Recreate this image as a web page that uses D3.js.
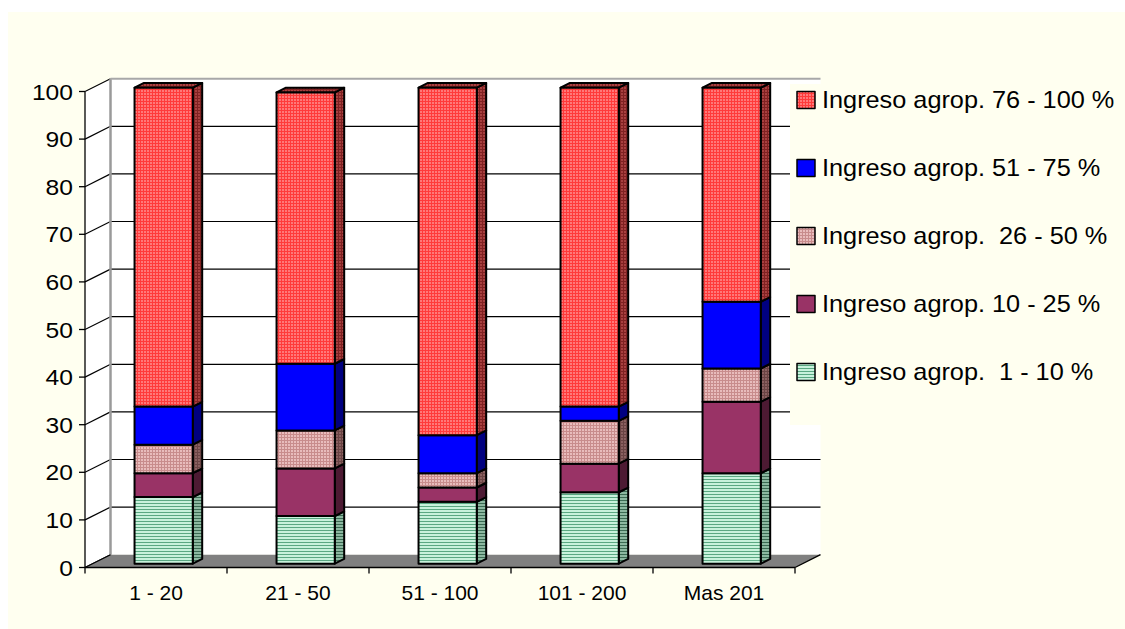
<!DOCTYPE html>
<html>
<head>
<meta charset="utf-8">
<script src="https://cdn.jsdelivr.net/npm/d3@7"></script>
<style>
  body { margin: 0; background: #ffffff; }
  text { font-family: "Liberation Sans", Arial, sans-serif; fill: #000; }
</style>
</head>
<body>
<svg id="chart" width="1125" height="629"></svg>
<script>
// Farm size groups (hectares)
const categories = ["1 - 20", "21 - 50", "51 - 100", "101 - 200", "Mas 201"];

// Share of farms (%) by agricultural-income bracket, per size group
const ingreso1a10   = [14, 10, 13, 15, 19];
const ingreso10a25  = [5, 10, 3, 6, 15];
const ingreso26a50  = [6, 8, 3, 9, 7];
const ingreso51a75  = [8, 14, 8, 3, 14];
const ingreso76a100 = [67, 57, 73, 67, 45];

const seriesKeys = ["s1", "s2", "s3", "s4", "s5"];
const seriesNames = [
  "Ingreso agrop.  1 - 10 %",
  "Ingreso agrop. 10 - 25 %",
  "Ingreso agrop.  26 - 50 %",
  "Ingreso agrop. 51 - 75 %",
  "Ingreso agrop. 76 - 100 %"
];
const yTicks = [0, 10, 20, 30, 40, 50, 60, 70, 80, 90, 100];

const rows = categories.map((c, i) => ({
  cat: c,
  s1: ingreso1a10[i], s2: ingreso10a25[i], s3: ingreso26a50[i],
  s4: ingreso51a75[i], s5: ingreso76a100[i]
}));

const svg = d3.select("#chart");
const defs = svg.append("defs");

// ---- texture overlays (drawn on top of a solid base colour) ----
function stripes(id, line) {
  const p = defs.append("pattern").attr("id", id).attr("patternUnits", "userSpaceOnUse")
    .attr("width", 6).attr("height", 3);
  p.append("rect").attr("y", 2).attr("width", 6).attr("height", 1).attr("fill", line);
}
function dots(id, dot) {
  const p = defs.append("pattern").attr("id", id).attr("patternUnits", "userSpaceOnUse")
    .attr("width", 3).attr("height", 3);
  p.append("rect").attr("width", 2).attr("height", 2).attr("fill", dot);
}
stripes("tGreen", "#5aa882");
stripes("tGreenSide", "#3a6a52");
dots("tPink", "#e8bcbc");
dots("tPinkSide", "#8a6060");
dots("tRed", "#ff7878");
dots("tRedSide", "#a84040");

// base colours and textures, front and side shade
const frontBase = ["#c8f2dc", "#993366", "#c88c8c", "#0000ff", "#ff3a3a"];
const sideBase  = ["#8cb8a0", "#4d1a33", "#6a4444", "#000080", "#802222"];
const frontTex  = ["url(#tGreen)", null, "url(#tPink)", null, "url(#tRed)"];
const sideTex   = ["url(#tGreenSide)", null, "url(#tPinkSide)", null, "url(#tRedSide)"];

function face(g, pts, base, tex, sw = 2) {
  const p = pts.join(" ");
  g.append("polygon").attr("points", p).attr("fill", base).attr("stroke", "none");
  if (tex) g.append("polygon").attr("points", p).attr("fill", tex).attr("stroke", "none");
  g.append("polygon").attr("points", p).attr("fill", "none")
    .attr("stroke", "#000").attr("stroke-width", sw).attr("stroke-linejoin", "round");
}

// ---- background ----
svg.append("rect").attr("x", 8).attr("y", 12).attr("width", 1117).attr("height", 617).attr("fill", "#fffff0");

// ---- scales & 3D depth ----
const x = d3.scaleBand().domain(categories).range([85, 795]);
const y = d3.scaleLinear().domain([0, 100]).range([567.5, 91.5]);
const D = { dx: 25.5, dy: -12.8 };           // full depth of the plot box
const xLeft = x.range()[0], xRight = x.range()[1];
const backL = xLeft + D.dx, backR = xRight + D.dx;

// side wall & back wall
svg.append("polygon")
  .attr("points", [[xLeft, y(100)], [backL, y(100) + D.dy], [backL, y(0) + D.dy], [xLeft, y(0)]].join(" "))
  .attr("fill", "#ffffff");
svg.append("rect").attr("x", backL).attr("y", y(100) + D.dy)
  .attr("width", backR - backL).attr("height", y(0) - y(100)).attr("fill", "#ffffff");

// gridlines on back wall and diagonals on side wall
const grid = svg.append("g").attr("stroke", "#000").attr("stroke-width", 1.2);
yTicks.filter(v => v > 0 && v < 100).forEach(v => {
  grid.append("line").attr("x1", backL).attr("x2", backR)
    .attr("y1", y(v) + D.dy).attr("y2", y(v) + D.dy);
});
yTicks.forEach(v => {
  grid.append("line").attr("x1", xLeft).attr("y1", y(v))
    .attr("x2", backL).attr("y2", y(v) + D.dy);
});

// wall borders
svg.append("line").attr("x1", backL).attr("x2", backL)
  .attr("y1", y(100) + D.dy).attr("y2", y(0) + D.dy)
  .attr("stroke", "#9a9a9a").attr("stroke-width", 2.5);
svg.append("line").attr("x1", backL).attr("x2", backR)
  .attr("y1", y(100) + D.dy).attr("y2", y(100) + D.dy)
  .attr("stroke", "#a8a8a8").attr("stroke-width", 2);

// floor
svg.append("polygon")
  .attr("points", [[xLeft, y(0)], [xRight, y(0)], [backR, y(0) + D.dy], [backL, y(0) + D.dy]].join(" "))
  .attr("fill", "#808080");
svg.append("line").attr("x1", xLeft).attr("y1", y(0)).attr("x2", backL).attr("y2", y(0) + D.dy)
  .attr("stroke", "#000").attr("stroke-width", 1.2);

// ---- stacked 3D bars ----
const stack = d3.stack().keys(seriesKeys)(rows);
const barFront = 0.30, barBack = 0.67;
const barW = x.bandwidth() * 0.41;
const fdx = barFront * D.dx, fdy = barFront * D.dy;
const sdx = (barBack - barFront) * D.dx, sdy = (barBack - barFront) * D.dy;

const bars = svg.append("g");
stack.forEach((layer, si) => {
  layer.forEach(d => {
    const c = d.data.cat;
    const x0 = x(c) + x.bandwidth() / 2 - barW / 2 + fdx;
    const yT = y(d[1]) + fdy, yB = y(d[0]) + fdy;
    const g = bars.append("g");
    // side face
    face(g, [[x0 + barW, yT], [x0 + barW + sdx, yT + sdy], [x0 + barW + sdx, yB + sdy], [x0 + barW, yB]],
      sideBase[si], sideTex[si]);
    // top face of the whole column
    if (si === seriesKeys.length - 1) {
      face(g, [[x0, yT], [x0 + sdx, yT + sdy], [x0 + barW + sdx, yT + sdy], [x0 + barW, yT]],
        sideBase[si], sideTex[si]);
    }
    // front face
    face(g, [[x0, yT], [x0 + barW, yT], [x0 + barW, yB], [x0, yB]], frontBase[si], frontTex[si]);
  });
});

// ---- axes ----
const axisG = svg.append("g").attr("stroke", "#000").attr("stroke-width", 1.3);
axisG.append("line").attr("x1", xLeft).attr("x2", xLeft).attr("y1", y(100)).attr("y2", y(0));
yTicks.forEach(v => {
  axisG.append("line").attr("x1", xLeft - 6).attr("x2", xLeft).attr("y1", y(v)).attr("y2", y(v));
});
axisG.append("line").attr("x1", xLeft).attr("x2", xRight).attr("y1", y(0)).attr("y2", y(0));
axisG.append("line").attr("x1", xRight).attr("y1", y(0)).attr("x2", backR).attr("y2", y(0) + D.dy);
const bounds = categories.map(c => x(c)).concat([xRight]);
bounds.forEach(b => {
  axisG.append("line").attr("x1", b).attr("x2", b).attr("y1", y(0)).attr("y2", y(0) + 6);
});

svg.append("g").selectAll("text").data(yTicks).join("text")
  .attr("transform", v => `translate(73,${y(v) + 8}) scale(1.12,1)`)
  .attr("text-anchor", "end")
  .style("font-size", "22px")
  .text(v => v);

svg.append("g").selectAll("text").data(categories).join("text")
  .attr("x", c => x(c) + x.bandwidth() / 2)
  .attr("y", 600)
  .attr("text-anchor", "middle")
  .style("font-size", "21px")
  .text(c => c);

// ---- legend ----
svg.append("rect").attr("x", 790).attr("y", 84).attr("width", 335).attr("height", 341).attr("fill", "#fffff0");
const legendOrder = [4, 3, 2, 1, 0];
const lg = svg.append("g").selectAll("g").data(legendOrder).join("g")
  .attr("transform", (si, i) => `translate(797,${100 + i * 68})`);
lg.each(function(si) {
  face(d3.select(this), [[0, -8.5], [18, -8.5], [18, 8.5], [0, 8.5]], frontBase[si], frontTex[si], 1.5);
});
lg.append("text")
  .attr("transform", "translate(25,7.5) scale(1.1,1)")
  .style("font-size", "23px")
  .style("white-space", "pre")
  .text(si => seriesNames[si]);
</script>
</body>
</html>
